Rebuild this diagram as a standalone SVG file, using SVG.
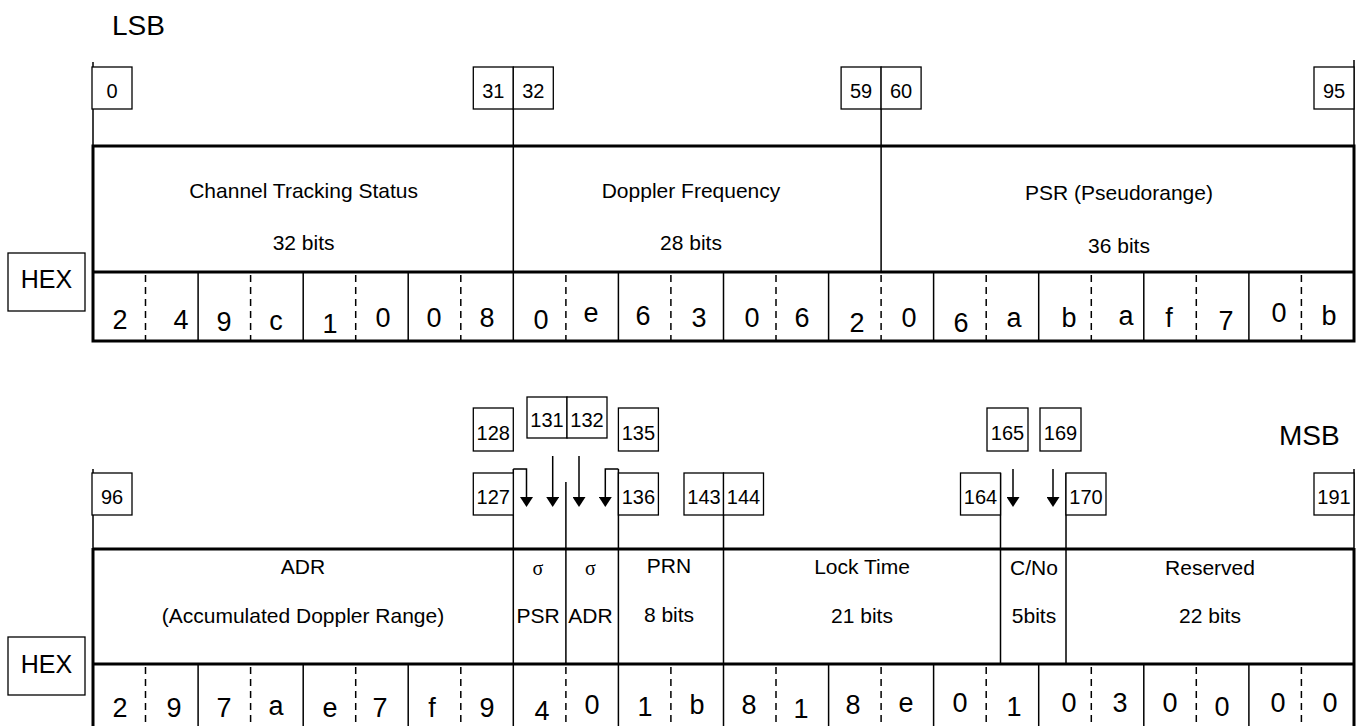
<svg xmlns="http://www.w3.org/2000/svg" width="1356" height="726" viewBox="0 0 1356 726">
<defs>
<marker id="ah" viewBox="0 0 10 10" refX="3" refY="5" markerWidth="10" markerHeight="13" markerUnits="userSpaceOnUse" orient="auto" preserveAspectRatio="none"><path d="M0,0 L10,5 L0,10 z" fill="#000"/></marker>
</defs>
<style>
text{font-family:"Liberation Sans",Arial,sans-serif;fill:#000}
.big{font-size:28px}
.hexlbl{font-size:25px;text-anchor:middle}
.bn{font-size:20px;text-anchor:middle}
.fl{font-size:21px;text-anchor:middle}
.hx{font-size:27px;text-anchor:middle}
.sig{font-family:"Liberation Serif","Times New Roman",serif;font-size:20px;text-anchor:middle}
.box{fill:#fff;stroke:#000;stroke-width:1.3}
.thin{stroke:#000;stroke-width:1.5;fill:none}
.thick{stroke:#000;stroke-width:3;fill:none}
.dash{stroke:#000;stroke-width:1.5;stroke-dasharray:7 5;fill:none}
.conn{stroke:#000;stroke-width:1.5;fill:none;marker-end:url(#ah)}
</style>
<rect width="1356" height="726" fill="#fff"/>

<text id="lsb" class="big" x="112" y="35">LSB</text>
<text id="msb" class="big" x="1279" y="445">MSB</text>

<!-- top table frame -->
<g id="table-top">
<path class="thin" d="M93,62V146 M1354,60V146 M513.3,67V272 M881.1,67V272"/>
<rect class="thick" x="93" y="146" width="1261" height="195"/>
<path class="thick" d="M93,272H1354"/>
<path class="thin" d="M198.1,272V341 M303.2,272V341 M408.2,272V341 M513.3,272V341 M618.4,272V341 M723.5,272V341 M828.6,272V341 M933.6,272V341 M1038.7,272V341 M1143.8,272V341 M1248.9,272V341"/>
<path class="dash" d="M145.5,275V341 M250.6,275V341 M355.7,275V341 M460.8,275V341 M565.9,275V341 M670.9,275V341 M776,275V341 M881.1,275V341 M986.2,275V341 M1091.3,275V341 M1196.3,275V341 M1301.4,275V341"/>
</g>

<g id="hex-top-label"><rect class="box" x="8" y="253" width="77" height="58"/><text class="hexlbl" x="46.5" y="288">HEX</text></g>

<g id="field-cts"><text class="fl" x="303.6" y="198">Channel Tracking Status</text><text class="fl" x="303.6" y="250">32 bits</text></g>
<g id="field-doppler"><text class="fl" x="691" y="198">Doppler Frequency</text><text class="fl" x="691" y="250">28 bits</text></g>
<g id="field-psr"><text class="fl" x="1119" y="200">PSR (Pseudorange)</text><text class="fl" x="1119" y="253">36 bits</text></g>

<g id="hex-top">
<text class="hx" x="120" y="329">2</text>
<text class="hx" x="181" y="329">4</text>
<text class="hx" x="224" y="331">9</text>
<text class="hx" x="276" y="330">c</text>
<text class="hx" x="330" y="333">1</text>
<text class="hx" x="383" y="327">0</text>
<text class="hx" x="434" y="327">0</text>
<text class="hx" x="487" y="327">8</text>
<text class="hx" x="541" y="329">0</text>
<text class="hx" x="591" y="322">e</text>
<text class="hx" x="643" y="325">6</text>
<text class="hx" x="699" y="327">3</text>
<text class="hx" x="752" y="327">0</text>
<text class="hx" x="802" y="327">6</text>
<text class="hx" x="857" y="332">2</text>
<text class="hx" x="909" y="327">0</text>
<text class="hx" x="961" y="332">6</text>
<text class="hx" x="1014" y="327">a</text>
<text class="hx" x="1069" y="327">b</text>
<text class="hx" x="1126" y="325">a</text>
<text class="hx" x="1169" y="327">f</text>
<text class="hx" x="1226" y="330">7</text>
<text class="hx" x="1279" y="322">0</text>
<text class="hx" x="1329" y="325">b</text>
</g>

<!-- top bit number boxes -->
<g id="bit-0"><rect class="box" x="92" y="67" width="40" height="42"/><text class="bn" x="112" y="98">0</text></g>
<g id="bit-31"><rect class="box" x="473.3" y="67" width="40" height="42"/><text class="bn" x="493.3" y="98">31</text></g>
<g id="bit-32"><rect class="box" x="513.3" y="67" width="40" height="42"/><text class="bn" x="533.3" y="98">32</text></g>
<g id="bit-59"><rect class="box" x="841.1" y="67" width="40" height="42"/><text class="bn" x="861.1" y="98">59</text></g>
<g id="bit-60"><rect class="box" x="881.1" y="67" width="40" height="42"/><text class="bn" x="901.1" y="98">60</text></g>
<g id="bit-95"><rect class="box" x="1314" y="67" width="40" height="42"/><text class="bn" x="1334" y="98">95</text></g>

<!-- lower table frame -->
<g id="table-bottom">
<path class="thin" d="M93,469V549 M1354,469V549 M513.3,469V664 M565.9,482V664 M618.4,469V664 M723.5,473V664 M1000.5,473V664 M1066,473V664"/>
<path class="thick" d="M93,549H1354 M93,664H1354 M93,548V740 M1354,548V740"/>
<path class="thin" d="M198.1,664V726 M303.2,664V726 M408.2,664V726 M513.3,664V726 M618.4,664V726 M723.5,664V726 M828.6,664V726 M933.6,664V726 M1038.7,664V726 M1143.8,664V726 M1248.9,664V726"/>
<path class="dash" d="M145.5,667V726 M250.6,667V726 M355.7,667V726 M460.8,667V726 M565.9,667V726 M670.9,667V726 M776,667V726 M881.1,667V726 M986.2,667V726 M1091.3,667V726 M1196.3,667V726 M1301.4,667V726"/>
</g>

<g id="hex-bottom-label"><rect class="box" x="8" y="637" width="77" height="58"/><text class="hexlbl" x="46.5" y="673">HEX</text></g>

<g id="field-adr"><text class="fl" x="303" y="574">ADR</text><text class="fl" x="303" y="623">(Accumulated Doppler Range)</text></g>
<g id="field-sigma-psr"><text class="sig" x="538" y="575">σ</text><text class="fl" x="538" y="623">PSR</text></g>
<g id="field-sigma-adr"><text class="sig" x="590.5" y="575">σ</text><text class="fl" x="590.5" y="623">ADR</text></g>
<g id="field-prn"><text class="fl" x="669" y="573">PRN</text><text class="fl" x="669" y="622">8 bits</text></g>
<g id="field-lock"><text class="fl" x="862" y="574">Lock Time</text><text class="fl" x="862" y="623">21 bits</text></g>
<g id="field-cno"><text class="fl" x="1034" y="575">C/No</text><text class="fl" x="1034" y="623">5bits</text></g>
<g id="field-reserved"><text class="fl" x="1210" y="575">Reserved</text><text class="fl" x="1210" y="623">22 bits</text></g>

<g id="hex-bottom">
<text class="hx" x="120" y="717">2</text>
<text class="hx" x="174" y="717">9</text>
<text class="hx" x="224" y="717">7</text>
<text class="hx" x="276" y="715">a</text>
<text class="hx" x="330" y="717">e</text>
<text class="hx" x="380" y="717">7</text>
<text class="hx" x="432" y="717">f</text>
<text class="hx" x="487" y="717">9</text>
<text class="hx" x="542" y="720">4</text>
<text class="hx" x="592" y="714">0</text>
<text class="hx" x="645" y="716">1</text>
<text class="hx" x="697" y="714">b</text>
<text class="hx" x="749" y="714">8</text>
<text class="hx" x="801" y="718">1</text>
<text class="hx" x="853" y="714">8</text>
<text class="hx" x="906" y="712">e</text>
<text class="hx" x="960" y="712">0</text>
<text class="hx" x="1014" y="716">1</text>
<text class="hx" x="1069" y="712">0</text>
<text class="hx" x="1120" y="712">3</text>
<text class="hx" x="1170" y="712">0</text>
<text class="hx" x="1222" y="716">0</text>
<text class="hx" x="1278" y="712">0</text>
<text class="hx" x="1330" y="712">0</text>
</g>

<!-- lower bit number boxes -->
<g id="bit-96"><rect class="box" x="92" y="473" width="40" height="42"/><text class="bn" x="112" y="504">96</text></g>
<g id="bit-127"><rect class="box" x="473.3" y="473" width="40" height="42"/><text class="bn" x="493.3" y="504">127</text></g>
<g id="bit-128"><rect class="box" x="473.3" y="408" width="40" height="43"/><text class="bn" x="493.3" y="440">128</text></g>
<g id="bit-131"><rect class="box" x="527" y="397" width="40" height="41"/><text class="bn" x="547" y="427">131</text></g>
<g id="bit-132"><rect class="box" x="567" y="397" width="40" height="41"/><text class="bn" x="587" y="427">132</text></g>
<g id="bit-135"><rect class="box" x="618.4" y="408" width="40" height="43"/><text class="bn" x="638.4" y="440">135</text></g>
<g id="bit-136"><rect class="box" x="618.4" y="473" width="40" height="42"/><text class="bn" x="638.4" y="504">136</text></g>
<g id="bit-143"><rect class="box" x="684" y="473" width="39.5" height="42"/><text class="bn" x="704" y="504">143</text></g>
<g id="bit-144"><rect class="box" x="723.5" y="473" width="40" height="42"/><text class="bn" x="743.5" y="504">144</text></g>
<g id="bit-164"><rect class="box" x="960.5" y="473" width="40" height="42"/><text class="bn" x="980.5" y="504">164</text></g>
<g id="bit-165"><rect class="box" x="987" y="408" width="41" height="43"/><text class="bn" x="1007.5" y="440">165</text></g>
<g id="bit-169"><rect class="box" x="1040" y="408" width="41" height="43"/><text class="bn" x="1060.5" y="440">169</text></g>
<g id="bit-170"><rect class="box" x="1066" y="473" width="40" height="42"/><text class="bn" x="1086" y="504">170</text></g>
<g id="bit-191"><rect class="box" x="1314" y="473" width="40" height="42"/><text class="bn" x="1334" y="504">191</text></g>

<g id="connectors">
<path class="conn" d="M513.3,469H526.5V500"/>
<path class="conn" d="M552.7,456V500"/>
<path class="conn" d="M579,456V500"/>
<path class="conn" d="M618.4,469H605.3V500"/>
<path class="conn" d="M1013,469V500"/>
<path class="conn" d="M1053,469V500"/>
</g>
</svg>
